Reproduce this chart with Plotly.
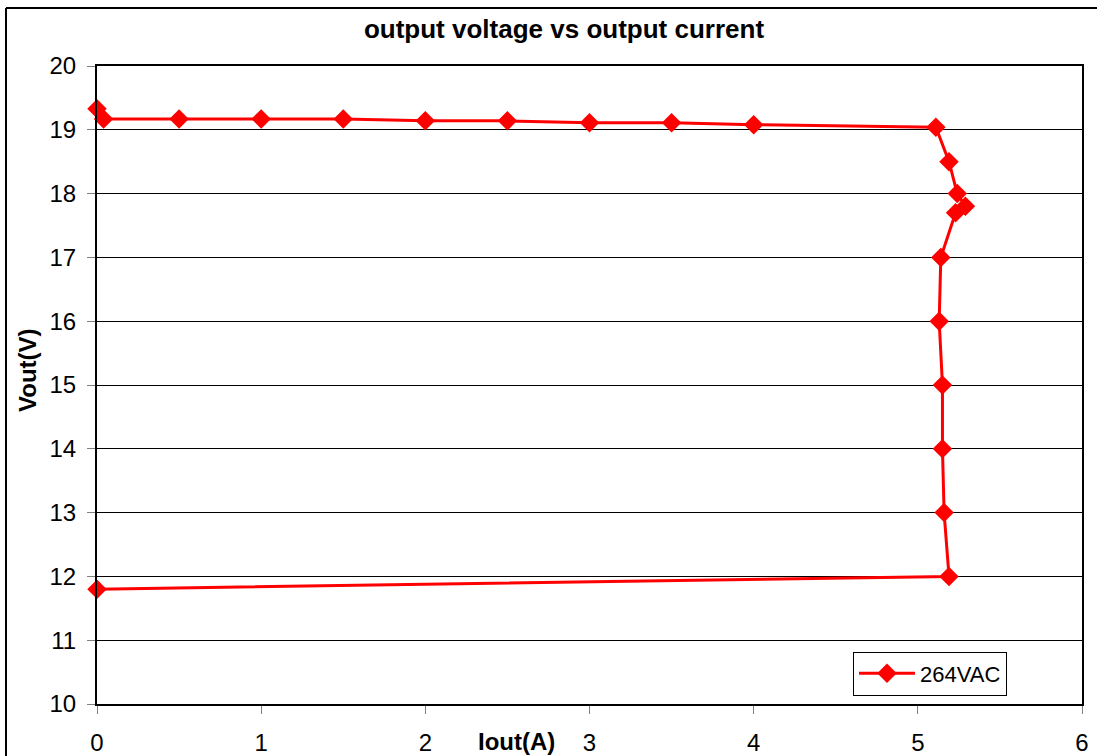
import plotly.graph_objects as go

iout = [0.0, 0.04, 0.5, 1.0, 1.5, 2.0, 2.5, 3.0, 3.5, 4.0, 5.11, 5.19, 5.24, 5.29, 5.23,
        5.14, 5.13, 5.15, 5.15, 5.16, 5.19, 0.0]
vout = [19.33, 19.17, 19.17, 19.17, 19.17, 19.14, 19.14, 19.11, 19.11, 19.08, 19.04, 18.5,
        18.0, 17.8, 17.7, 17.0, 16.0, 15.0, 14.0, 13.0, 12.0, 11.8]
series_name = "264VAC"
x_ticks = [0, 1, 2, 3, 4, 5, 6]
y_ticks = [10, 11, 12, 13, 14, 15, 16, 17, 18, 19, 20]

W, H = 1097, 756
L, T = 97, 66
R = W - 1082
B = H - 704
pw, ph = W - L - R, H - T - B

def px(xp):
    return (xp - L) / pw

def py(yp):
    return (H - B - yp) / ph

FONT = "Liberation Sans, Arial, sans-serif"
RED = "#FF0000"

fig = go.Figure()
fig.add_trace(go.Scatter(
    x=iout, y=vout, mode="lines+markers", name=series_name,
    line=dict(color=RED, width=3),
    marker=dict(symbol="diamond", size=15, color=RED),
    cliponaxis=False,
))

fig.update_layout(
    width=W, height=H,
    autosize=False,
    margin=dict(l=L, r=R, t=T, b=B, autoexpand=False),
    paper_bgcolor="white", plot_bgcolor="white",
    font=dict(family=FONT, color="black", size=24),
    title=dict(text="<b>output voltage vs output current</b>", x=564 / W, xanchor="center",
               y=1 - 29 / H, yanchor="middle", font=dict(size=26, family=FONT, color="black")),
    showlegend=True,
    legend=dict(x=px(853), y=py(673.5), xanchor="left", yanchor="middle",
                bordercolor="black", borderwidth=1, bgcolor="white",
                font=dict(size=22, family=FONT), itemwidth=56,
                tracegroupgap=0),
    xaxis=dict(range=[0, 6], tickvals=x_ticks, showgrid=False, zeroline=False,
               showline=True, linecolor="black", linewidth=2, mirror=True,
               ticks="outside", ticklen=8, tickcolor="#808080", tickwidth=1,
               ticklabelstandoff=8, automargin=False,
               tickfont=dict(size=24, family=FONT)),
    yaxis=dict(range=[10, 20], tickvals=y_ticks, showgrid=True, gridcolor="black", gridwidth=1,
               zeroline=False, showline=True, linecolor="black", linewidth=2, mirror=True,
               ticks="outside", ticklen=8, tickcolor="#808080", tickwidth=1,
               ticklabelstandoff=6, automargin=False,
               tickfont=dict(size=24, family=FONT)),
)

fig.add_annotation(text="<b>Iout(A)</b>", xref="paper", yref="paper", x=px(516), y=py(741),
                   xanchor="center", yanchor="middle", showarrow=False,
                   font=dict(size=24, family=FONT, color="black"))
fig.add_annotation(text="<b>Vout(V)</b>", xref="paper", yref="paper", x=px(27), y=py(370),
                   xanchor="center", yanchor="middle", showarrow=False, textangle=-90,
                   font=dict(size=24, family=FONT, color="black"))

# outer chart border (left and top edges)
fig.add_shape(type="line", xref="paper", yref="paper",
              x0=px(6), x1=px(6), y0=py(8), y1=py(800),
              line=dict(color="black", width=2), layer="below")
fig.add_shape(type="line", xref="paper", yref="paper",
              x0=px(6), x1=px(1200), y0=py(8), y1=py(8),
              line=dict(color="black", width=2), layer="below")

fig.write_html(
    "out.html",
    config={"displayModeBar": False},
    post_script="document.body.style.margin='0';"
                "document.documentElement.style.overflow='hidden';"
                "document.body.style.overflow='hidden';",
)
